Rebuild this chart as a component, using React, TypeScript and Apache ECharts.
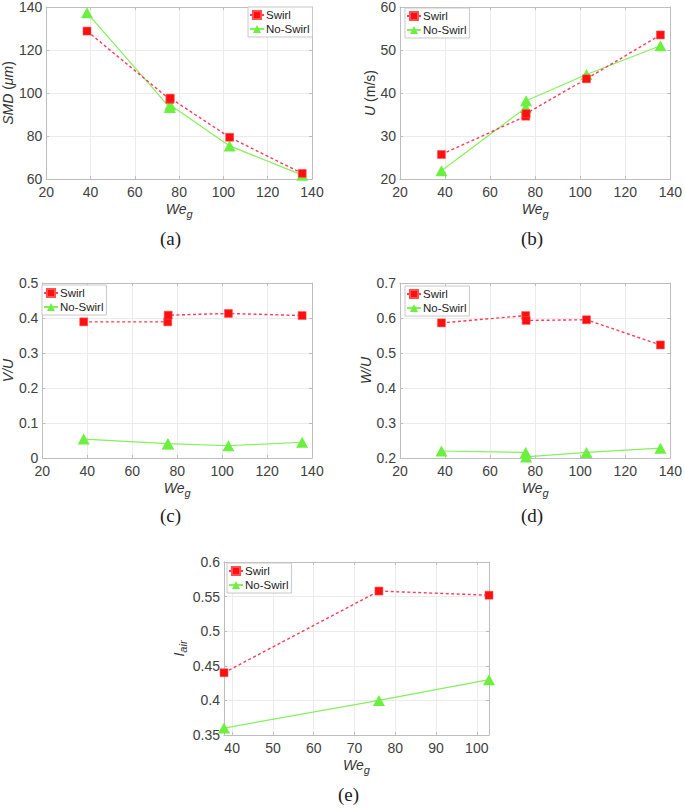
import React, { useEffect, useRef } from "react";
import * as echarts from "echarts";

// ---- data ----
const weg = [38.4, 75.8, 76.0, 102.8, 135.6];
const smdSwirl = [128.8, 97.0, 97.6, 79.4, 62.6];
const smdNoSwirl = [137.3, 93.2, 94.4, 75.4, 61.8];
const uSwirl = [25.7, 34.6, 35.2, 43.3, 53.5];
const uNoSwirl = [21.9, 36.6, 38.2, 44.3, 51.0];
const vuSwirl = [0.389, 0.389, 0.408, 0.413, 0.407];
const vuNoSwirl = [0.054, 0.041, 0.040, 0.035, 0.045];
const wuSwirl = [0.586, 0.607, 0.593, 0.595, 0.523];
const wuNoSwirl = [0.22, 0.216, 0.203, 0.216, 0.228];
const wegE = [38, 76, 103];
const iairSwirl = [0.44, 0.558, 0.552];
const iairNoSwirl = [0.36, 0.4, 0.43];
const seriesNames = ["Swirl", "No-Swirl"];
const captions = ["(a)", "(b)", "(c)", "(d)", "(e)"];

const FONT = "'Liberation Sans', Arial, Helvetica, sans-serif";
const AXIS_COLOR = "#bdbdbd";
const GRID_COLOR = "#ebebeb";
const LABEL_COLOR = "#404040";
const RED = "#ff1010";
const GREEN = "#6cf040";

type PanelCfg = {
  grid: { left: number; top: number; width: number; height: number };
  x: { min: number; max: number; interval?: number };
  y: { min: number; max: number; interval: number };
  yName: string;
  yGap: number;
  xs: number[];
  swirl: number[];
  noSwirl: number[];
  legend: { left: number; top: number };
};

const richBase = {
  i: { fontFamily: FONT, fontSize: 14, fontStyle: "italic", color: "#333" },
  n: { fontFamily: FONT, fontSize: 14, color: "#333" },
  s: { fontFamily: FONT, fontSize: 11, fontStyle: "italic", color: "#333", padding: [9, 0, 0, 0] },
};

const panels: PanelCfg[] = [
  {
    grid: { left: 41, top: 6, width: 271, height: 173 },
    x: { min: 20, max: 140, interval: 20 },
    y: { min: 60, max: 140, interval: 20 },
    yName: "{i|SMD}{n| (}{i|μm}{n|)}",
    yGap: 26,
    xs: weg,
    swirl: smdSwirl,
    noSwirl: smdNoSwirl,
    legend: { left: 248, top: 7 },
  },
  {
    grid: { left: 400, top: 5, width: 273, height: 174 },
    x: { min: 20, max: 140, interval: 20 },
    y: { min: 20, max: 60, interval: 10 },
    yName: "{i|U}{n| (m/s)}",
    yGap: 18,
    xs: weg,
    swirl: uSwirl,
    noSwirl: uNoSwirl,
    legend: { left: 405, top: 8 },
  },
  {
    grid: { left: 40, top: 283, width: 272, height: 175 },
    x: { min: 20, max: 140, interval: 20 },
    y: { min: 0, max: 0.5, interval: 0.1 },
    yName: "{i|V/U}",
    yGap: 27,
    xs: weg,
    swirl: vuSwirl,
    noSwirl: vuNoSwirl,
    legend: { left: 42, top: 285 },
  },
  {
    grid: { left: 400, top: 283, width: 273, height: 175 },
    x: { min: 20, max: 140, interval: 20 },
    y: { min: 0.2, max: 0.7, interval: 0.1 },
    yName: "{i|W/U}",
    yGap: 20,
    xs: weg,
    swirl: wuSwirl,
    noSwirl: wuNoSwirl,
    legend: { left: 405, top: 286 },
  },
  {
    grid: { left: 224, top: 562, width: 265, height: 173 },
    x: { min: 38, max: 103 },
    y: { min: 0.35, max: 0.6, interval: 0.05 },
    yName: "{i|I}{s|air}",
    yGap: 32,
    xs: wegE,
    swirl: iairSwirl,
    noSwirl: iairNoSwirl,
    legend: { left: 227, top: 563 },
  },
];

const captionPos = [
  [172, 240],
  [533, 240],
  [172, 517],
  [533, 517],
  [350, 796],
];

function buildOption() {
  const grid: any[] = [];
  const xAxis: any[] = [];
  const yAxis: any[] = [];
  const series: any[] = [];
  const legend: any[] = [];

  panels.forEach((p, gi) => {
    grid.push({ ...p.grid, show: false, containLabel: false });
    const tick = { show: true, inside: true, length: 3, lineStyle: { color: AXIS_COLOR } };
    const axisLine = { show: true, onZero: false, lineStyle: { color: AXIS_COLOR, width: 1 } };
    const xCommon: any = {
      type: "value",
      gridIndex: gi,
      min: p.x.min,
      max: p.x.max,
    };
    if (p.x.interval) xCommon.interval = p.x.interval;
    else xCommon.splitNumber = 6;
    xAxis.push({
      ...xCommon,
      position: "bottom",
      axisLine,
      axisTick: tick,
      axisLabel: {
        color: LABEL_COLOR,
        fontFamily: FONT,
        fontSize: 14,
        margin: 6,
        formatter: (v: number) => (Math.abs(v - Math.round(v / 10) * 10) < 1e-6 ? String(Math.round(v)) : ""),
      },
      splitLine: { show: true, lineStyle: { color: GRID_COLOR, width: 1 } },
      name: "{i|We}{s|g}",
      nameLocation: "middle",
      nameGap: 20,
      nameTextStyle: { rich: richBase },
    });
    xAxis.push({
      ...xCommon,
      position: "top",
      axisLine,
      axisTick: tick,
      axisLabel: { show: false },
      splitLine: { show: false },
    });
    const yCommon: any = {
      type: "value",
      gridIndex: gi,
      min: p.y.min,
      max: p.y.max,
      interval: p.y.interval,
    };
    yAxis.push({
      ...yCommon,
      position: "left",
      axisLine,
      axisTick: tick,
      axisLabel: { color: LABEL_COLOR, fontFamily: FONT, fontSize: 14, margin: 4 },
      splitLine: { show: true, lineStyle: { color: GRID_COLOR, width: 1 } },
      name: p.yName,
      nameLocation: "middle",
      nameGap: p.yGap,
      nameTextStyle: { rich: richBase },
    });
    yAxis.push({
      ...yCommon,
      position: "right",
      axisLine,
      axisTick: tick,
      axisLabel: { show: false },
      splitLine: { show: false },
    });

    const xi = gi * 2;
    const yi = gi * 2;
    series.push({
      name: seriesNames[0],
      type: "line",
      xAxisIndex: xi,
      yAxisIndex: yi,
      data: p.xs.map((x, k) => [x, p.swirl[k]]),
      symbol: "rect",
      symbolSize: 8,
      itemStyle: { color: RED, borderColor: "#ff5050", borderWidth: 0.5 },
      lineStyle: { color: "#ff3a5a", width: 1.4, type: [3, 2.5] },
      z: 3,
    });
    series.push({
      name: seriesNames[1],
      type: "line",
      xAxisIndex: xi,
      yAxisIndex: yi,
      data: p.xs.map((x, k) => [x, p.noSwirl[k]]),
      symbol: "triangle",
      symbolSize: [12, 11],
      itemStyle: { color: GREEN },
      lineStyle: { color: "#84f05c", width: 1.2 },
      z: 2,
    });

    legend.push({
      left: p.legend.left,
      top: p.legend.top,
      orient: "vertical",
      data: seriesNames,
      backgroundColor: "#ffffff",
      borderColor: "#c8c8c8",
      borderWidth: 1,
      borderRadius: 0,
      padding: [2, 3, 2, 1],
      itemGap: 2,
      itemWidth: 14,
      itemHeight: 10,
      selectedMode: false,
      textStyle: { fontFamily: FONT, fontSize: 11.5, color: "#222", padding: [0, 0, 0, -3] },
    });
  });

  const graphic = captions.map((c, i) => ({
    type: "text",
    left: captionPos[i][0] - 12,
    top: captionPos[i][1] - 11,
    style: {
      text: c,
      font: "19px 'Liberation Serif', 'Times New Roman', serif",
      fill: "#1a1a1a",
    },
  }));

  return {
    animation: false,
    backgroundColor: "#ffffff",
    grid,
    xAxis,
    yAxis,
    series,
    legend,
    graphic,
  };
}

export default function App() {
  const ref = useRef<HTMLDivElement>(null);
  useEffect(() => {
    if (!ref.current) return;
    const chart = echarts.init(ref.current, undefined, { renderer: "svg" });
    chart.setOption(buildOption() as any);
    return () => chart.dispose();
  }, []);
  return (
    <div
      ref={ref}
      style={{ position: "absolute", left: 0, top: 0, width: 685, height: 810, background: "#fff" }}
    />
  );
}
